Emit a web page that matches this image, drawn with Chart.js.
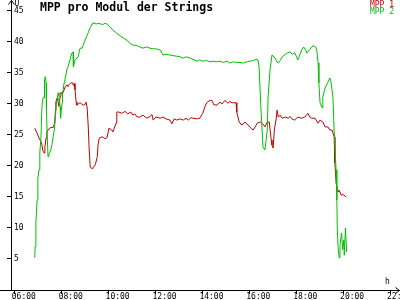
<!DOCTYPE html>
<html>
<head>
<meta charset="utf-8">
<title>MPP pro Modul der Strings</title>
<script src="https://cdn.jsdelivr.net/npm/chart.js@4.4.1/dist/chart.umd.min.js"></script>
<style>
    html, body { margin: 0; padding: 0; background: #ffffff; }
    #wrap { width: 400px; height: 300px; position: relative; }
</style>
</head>
<body>
<div id="wrap"><canvas id="chartMpp"></canvas></div>
<script>
const titel = 'MPP pro Modul der Strings';
const serienNamen = ['MPP 1', 'MPP 2'];
const serienFarben = ['#c00000', '#00c000'];
const einheitY = 'U';
const einheitX = 'h';

// Achsen: Stunden des Tages bzw. Spannung
const xMin = 5.838;
const xMax = 22.426;
const yMin = 0;
const yMax = 46.77;
const xTicks = [6, 8, 10, 12, 14, 16, 18, 20, 22];
const yTicks = [5, 10, 15, 20, 25, 30, 35, 40, 45];

// MPP 1 (rot)
const zeitMpp1 = [
    '06:51', '06:57', '07:02', '07:07', '07:09', '07:12', '07:15', '07:17', '07:20', '07:22',
    '07:27', '07:32', '07:38', '07:42', '07:44', '07:45', '07:48', '07:50', '07:53', '07:56',
    '07:58', '08:01', '08:04', '08:08', '08:13', '08:16', '08:19', '08:23', '08:28', '08:30',
    '08:32', '08:34', '08:37', '08:39', '08:42', '08:47', '08:55', '09:00', '09:02', '09:05',
    '09:08', '09:10', '09:13', '09:18', '09:20', '09:26', '09:31', '09:33', '09:36', '09:44',
    '09:51', '09:56', '10:01', '10:08', '10:11', '10:19', '10:21', '10:26', '10:34', '10:42',
    '10:49', '10:57', '11:02', '11:07', '11:13', '11:20', '11:28', '11:38', '11:46', '11:51',
    '11:54', '12:01', '12:12', '12:19', '12:27', '12:37', '12:42', '12:48', '12:55', '13:03',
    '13:11', '13:18', '13:24', '13:31', '13:36', '13:47', '13:53', '14:01', '14:06', '14:11',
    '14:17', '14:24', '14:29', '14:37', '14:45', '14:50', '14:58', '15:05', '15:10', '15:16',
    '15:26', '15:28', '15:34', '15:41', '15:49', '15:57', '16:04', '16:10', '16:15', '16:20',
    '16:28', '16:33', '16:40', '16:46', '16:51', '16:56', '16:58', '17:01', '17:04', '17:09',
    '17:11', '17:14', '17:19', '17:24', '17:32', '17:40', '17:44', '17:49', '17:56', '18:04',
    '18:14', '18:22', '18:30', '18:35', '18:40', '18:48', '18:56', '19:01', '19:08', '19:14',
    '19:21', '19:26', '19:32', '19:37', '19:39', '19:42', '19:47', '19:50', '19:55', '20:00',
    '20:08'
];
const wertMpp1 = [
    26.1, 25.3, 24.5, 23.9, 23.5, 22.4, 22.1, 23.1, 24.5, 25.5,
    26.0, 26.2, 26.2, 26.9, 29.0, 30.3, 30.9, 30.6, 29.6, 31.2,
    31.9, 31.6, 31.9, 32.6, 33.1, 32.8, 33.1, 33.4, 33.4, 33.0,
    33.3, 32.3, 30.3, 29.8, 30.0, 30.2, 29.8, 30.0, 30.3, 29.5,
    26.3, 23.1, 19.8, 19.6, 19.7, 20.2, 21.5, 23.4, 24.5, 24.7,
    24.4, 24.6, 26.1, 25.8, 25.5, 26.9, 28.7, 28.7, 28.5, 28.8,
    28.4, 28.7, 28.2, 28.4, 27.9, 27.9, 28.2, 27.7, 28.0, 28.3,
    27.4, 27.9, 27.7, 27.9, 27.6, 27.4, 26.8, 27.6, 27.4, 27.6,
    27.4, 27.7, 27.4, 27.8, 27.7, 27.6, 27.7, 28.5, 29.5, 30.2,
    30.5, 30.6, 29.9, 29.8, 30.3, 30.0, 30.6, 30.1, 30.4, 30.2,
    30.2, 28.7, 27.1, 26.6, 27.1, 26.6, 26.1, 25.8, 26.3, 26.9,
    27.1, 26.9, 26.3, 27.1, 27.1, 24.2, 23.4, 22.9, 25.8, 27.7,
    29.0, 27.9, 28.2, 27.7, 27.9, 27.7, 28.0, 27.6, 27.4, 27.9,
    27.7, 27.9, 28.5, 27.9, 27.7, 27.7, 26.9, 27.4, 27.1, 26.3,
    26.3, 25.8, 25.8, 24.7, 20.5, 17.3, 15.8, 16.1, 15.3, 15.4,
    15.0
];

// MPP 2 (gruen)
const zeitMpp2 = [
    '06:51', '06:52', '06:54', '06:57', '06:59', '07:02', '07:04', '07:07', '07:09', '07:11',
    '07:13', '07:15', '07:16', '07:18', '07:20', '07:21', '07:23', '07:25', '07:27', '07:32',
    '07:35', '07:38', '07:41', '07:44', '07:47', '07:49', '07:51', '07:53', '07:56', '07:57',
    '07:59', '08:01', '08:02', '08:04', '08:06', '08:08', '08:11', '08:13', '08:16', '08:21',
    '08:26', '08:29', '08:30', '08:34', '08:42', '08:47', '08:52', '08:55', '09:00', '09:05',
    '09:08', '09:13', '09:18', '09:20', '09:28', '09:36', '09:44', '09:51', '09:56', '10:03',
    '10:11', '10:19', '10:29', '10:39', '10:47', '10:54', '11:02', '11:13', '11:20', '11:28',
    '11:36', '11:46', '11:54', '12:01', '12:12', '12:19', '12:27', '12:37', '12:45', '12:55',
    '13:03', '13:11', '13:18', '13:29', '13:36', '13:47', '13:53', '14:01', '14:11', '14:19',
    '14:27', '14:37', '14:45', '14:53', '15:03', '15:10', '15:18', '15:28', '15:36', '15:44',
    '15:54', '16:02', '16:10', '16:17', '16:22', '16:25', '16:30', '16:35', '16:40', '16:46',
    '16:48', '16:53', '16:58', '17:06', '17:11', '17:14', '17:19', '17:24', '17:32', '17:37',
    '17:44', '17:51', '17:56', '18:01', '18:04', '18:09', '18:14', '18:19', '18:25', '18:27',
    '18:35', '18:40', '18:45', '18:50', '18:53', '18:56', '18:58', '19:01', '19:06', '19:08',
    '19:14', '19:21', '19:26', '19:29', '19:34', '19:37', '19:42', '19:44', '19:45', '19:47',
    '19:50', '19:52', '19:56', '19:59', '20:02', '20:03', '20:06', '20:09'
];
const wertMpp2 = [
    5.2, 7.0, 10.8, 14.5, 18.0, 19.4, 22.1, 24.7, 29.0, 30.6,
    31.1, 31.0, 33.9, 34.4, 33.4, 29.0, 24.7, 21.5, 21.8, 22.6,
    23.4, 24.7, 25.8, 27.9, 30.6, 31.1, 31.8, 31.3, 29.5, 27.7,
    29.0, 30.2, 31.8, 32.3, 33.4, 33.9, 34.7, 35.5, 36.0, 37.1,
    38.2, 38.4, 36.0, 37.1, 37.6, 39.0, 39.0, 39.5, 40.3, 41.1,
    41.5, 42.3, 42.9, 43.1, 42.9, 43.0, 42.8, 43.0, 42.9, 42.5,
    41.9, 41.5, 41.0, 40.6, 40.3, 39.8, 39.5, 39.4, 39.2, 39.0,
    39.2, 39.0, 38.9, 38.9, 38.7, 37.9, 38.0, 37.9, 37.8, 37.7,
    37.6, 37.4, 37.6, 37.4, 37.2, 36.9, 37.1, 36.9, 37.0, 36.8,
    36.9, 36.8, 36.9, 36.7, 36.9, 36.6, 36.8, 36.7, 36.7, 36.6,
    36.8, 36.9, 37.0, 37.2, 37.1, 36.0, 29.0, 23.1, 22.6, 25.8,
    31.1, 35.5, 37.9, 37.4, 36.8, 36.6, 37.0, 37.6, 38.0, 38.2,
    38.4, 38.0, 38.3, 37.6, 37.1, 37.9, 38.7, 39.2, 38.6, 38.2,
    38.8, 39.2, 39.4, 39.2, 38.5, 36.6, 33.4, 30.2, 29.4, 31.1,
    32.6, 33.5, 34.2, 33.6, 31.1, 25.8, 19.4, 14.5, 10.2, 7.0,
    5.2, 7.2, 9.2, 6.5, 8.1, 5.6, 10.0, 6.1
];

const toHours = (t) => {
    const [h, m] = t.split(':').map(Number);
    return h + m / 60;
};

const punkte = (zeiten, werte) => zeiten.map((t, i) => ({ x: toHours(t), y: werte[i] }));

const kleineSchrift = { family: 'DejaVu Sans Mono', size: 8 };

// Titel, Legende, Pfeile und Einheiten wie im Original
const rahmenPlugin = {
    id: 'rahmen',
    afterDraw(chart) {
        const ctx = chart.ctx;
        const a = chart.chartArea;
        const ax = Math.round(a.left) + 0.5;
        const ay = Math.round(a.bottom) + 0.5;
        ctx.save();
        ctx.strokeStyle = '#000';
        ctx.fillStyle = '#000';
        ctx.lineWidth = 1;

        // x-Achse links ueber die y-Achse hinaus verlaengern
        ctx.beginPath();
        ctx.moveTo(0, ay);
        ctx.lineTo(a.left, ay);
        ctx.stroke();

        // Pfeil y-Achse
        ctx.beginPath();
        ctx.moveTo(ax - 3, 4.5);
        ctx.lineTo(ax, 0.5);
        ctx.lineTo(ax + 3, 4.5);
        ctx.stroke();

        // Pfeil x-Achse
        ctx.beginPath();
        ctx.moveTo(395.5, ay - 3);
        ctx.lineTo(399.5, ay);
        ctx.lineTo(395.5, ay + 3);
        ctx.stroke();

        ctx.font = '8px "DejaVu Sans Mono"';
        ctx.textAlign = 'left';
        ctx.textBaseline = 'alphabetic';
        ctx.fillText(einheitY, ax + 3, 6);
        ctx.fillText(einheitX, 385, 284);

        // Titel
        ctx.font = 'bold 11.5px "DejaVu Sans Mono"';
        ctx.fillText(titel, 40, 11);

        // Legende oben rechts
        ctx.font = '8px "DejaVu Sans Mono"';
        ctx.textAlign = 'right';
        serienNamen.forEach((name, i) => {
            ctx.fillStyle = serienFarben[i];
            ctx.fillText(name, 394, 7 + i * 7);
        });
        ctx.restore();
    }
};

new Chart(document.getElementById('chartMpp'), {
    type: 'line',
    data: {
        datasets: [
            {
                label: serienNamen[0],
                data: punkte(zeitMpp1, wertMpp1),
                borderColor: serienFarben[0],
                borderWidth: 1,
                pointRadius: 0,
                tension: 0,
                fill: false,
                order: 1
            },
            {
                label: serienNamen[1],
                data: punkte(zeitMpp2, wertMpp2),
                borderColor: serienFarben[1],
                borderWidth: 1,
                pointRadius: 0,
                tension: 0,
                fill: false,
                order: 0
            }
        ]
    },
    options: {
        responsive: true,
        maintainAspectRatio: false,
        animation: false,
        layout: { padding: 0 },
        plugins: {
            legend: { display: false },
            title: { display: false },
            tooltip: { enabled: false }
        },
        scales: {
            x: {
                type: 'linear',
                min: xMin,
                max: xMax,
                afterBuildTicks: (s) => { s.ticks = xTicks.map(v => ({ value: v })); },
                afterFit: (s) => { s.height = 10; s.paddingLeft = 0; s.paddingRight = 0; },
                grid: { drawOnChartArea: false, drawTicks: true, tickLength: 4, color: '#000' },
                border: { display: true, color: '#000', width: 1 },
                ticks: {
                    align: 'start',
                    labelOffset: -3,
                    padding: -2,
                    maxRotation: 0,
                    autoSkip: false,
                    color: '#000',
                    font: kleineSchrift,
                    callback: (v) => String(v).padStart(2, '0') + ':00'
                }
            },
            y: {
                min: yMin,
                max: yMax,
                afterBuildTicks: (s) => { s.ticks = yTicks.map(v => ({ value: v })); },
                afterFit: (s) => { s.width = 11; s.paddingTop = 0; s.paddingBottom = 0; },
                grid: { drawOnChartArea: false, drawTicks: true, tickLength: 4, color: '#000' },
                border: { display: true, color: '#000', width: 1 },
                ticks: {
                    mirror: true,
                    padding: 3,
                    color: '#000',
                    font: kleineSchrift,
                    autoSkip: false
                }
            }
        }
    },
    plugins: [rahmenPlugin]
});
</script>
</body>
</html>
